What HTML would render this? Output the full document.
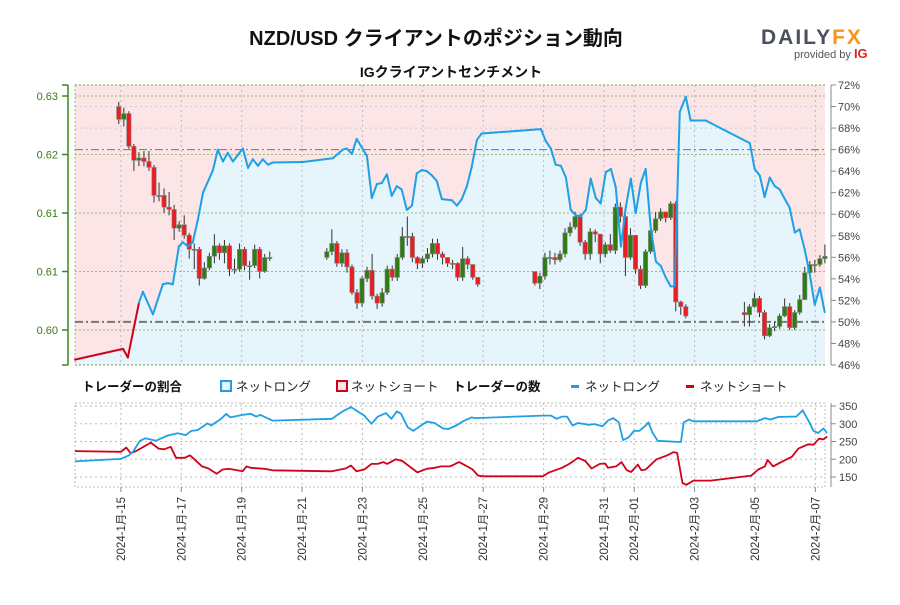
<!DOCTYPE html>
<html><head><meta charset="utf-8">
<style>
html,body{margin:0;padding:0;background:#fff;}
body{width:900px;height:600px;overflow:hidden;position:relative;font-family:"Liberation Sans","Noto Sans CJK JP",sans-serif;}
svg text{font-family:"Liberation Sans","Noto Sans CJK JP",sans-serif;}
</style></head>
<body>
<svg id="chart" width="900" height="600" viewBox="0 0 900 600" xmlns="http://www.w3.org/2000/svg">
  <text x="436" y="45" text-anchor="middle" font-size="20" font-weight="bold" fill="#111">NZD/USD クライアントのポジション動向</text>
  <text x="451" y="77" text-anchor="middle" font-size="14" font-weight="bold" fill="#111">IGクライアントセンチメント</text>
  <g>
    <text x="761" y="44" font-size="21" font-weight="bold" letter-spacing="2" fill="#4a5060">DAILY<tspan fill="#f7941d">FX</tspan></text>
    <text x="794" y="58" font-size="11" fill="#555">provided by <tspan fill="#e2231a" font-weight="bold" font-size="13">IG</tspan></text>
  </g>
  <g id="topG"></g>
  <g id="legend">
    <text x="82" y="391" font-size="12.5" font-weight="bold" fill="#111">トレーダーの割合</text>
    <rect x="221" y="381" width="10" height="10" fill="#e6f4fb" stroke="#1ea0e6" stroke-width="2"/>
    <text x="236" y="391" font-size="12.5" fill="#222">ネットロング</text>
    <rect x="337" y="381" width="10" height="10" fill="#fbe5e6" stroke="#d0021b" stroke-width="2"/>
    <text x="351" y="391" font-size="12.5" fill="#222">ネットショート</text>
    <text x="453" y="391" font-size="12.5" font-weight="bold" fill="#111">トレーダーの数</text>
    <rect x="571" y="385" width="8" height="3" fill="#1ea0e6"/>
    <text x="585" y="391" font-size="12.5" fill="#222">ネットロング</text>
    <rect x="686" y="385" width="8" height="3" fill="#d0021b"/>
    <text x="700" y="391" font-size="12.5" fill="#222">ネットショート</text>
  </g>
  <g id="bottomG"></g>
</svg>
<script>
// ---------- data ----------
const xTickDays = [15,17,19,21,23,25,27,29,31,32,34,36,38];
const xTickLabels = ["2024-1月-15","2024-1月-17","2024-1月-19","2024-1月-21","2024-1月-23","2024-1月-25","2024-1月-27","2024-1月-29","2024-1月-31","2024-2月-01","2024-2月-03","2024-2月-05","2024-2月-07"];
const priceTicks = [0.625,0.620,0.615,0.610,0.605];
const priceTickLabels = ["0.63","0.62","0.61","0.61","0.60"];
const pctTicks = [46,48,50,52,54,56,58,60,62,64,66,68,70,72];
const countTicks = [150,200,250,300,350];

const segStartDays = [14.93,21.82,28.71,35.65];
const segCounts = [31,31,31,17];
const segOpens = [0.6241,0.6112,0.6100,0.6065];
const closes = [
 0.6230,0.6235,0.6207,0.6195,0.6197,0.6194,0.6189,0.6165,0.6165,0.6155,0.6153,0.6137,0.6140,0.6131,0.6119,0.6119,0.6094,0.6103,0.6113,0.6122,0.6116,0.6122,0.6102,0.6102,0.6119,0.6105,0.6105,0.6119,0.6100,0.6112,0.6112,
 0.6117,0.6124,0.6107,0.6116,0.6104,0.6082,0.6073,0.6094,0.6101,0.6079,0.6073,0.6082,0.6102,0.6095,0.6112,0.6130,0.6130,0.6112,0.6107,0.6111,0.6115,0.6124,0.6115,0.6112,0.6107,0.6107,0.6095,0.6111,0.6106,0.6095,0.6089,
 0.6090,0.6096,0.6112,0.6112,0.6110,0.6115,0.6133,0.6138,0.6147,0.6125,0.6115,0.6134,0.6132,0.6115,0.6123,0.6118,0.6155,0.6147,0.6112,0.6131,0.6102,0.6088,0.6117,0.6135,0.6145,0.6151,0.6146,0.6158,0.6074,0.6070,0.6062,
 0.6063,0.6070,0.6077,0.6065,0.6045,0.6052,0.6053,0.6062,0.6070,0.6052,0.6065,0.6076,0.6099,0.6106,0.6106,0.6111,0.6113];
const highs = [
 0.6245,0.6240,0.6237,0.6209,0.6202,0.6203,0.6203,0.6191,0.6176,0.6171,0.6168,0.6157,0.6143,0.6148,0.6133,0.6124,0.6121,0.6108,0.6116,0.6132,0.6124,0.6127,0.6124,0.6111,0.6124,0.6121,0.6109,0.6123,0.6121,0.6115,0.6117,
 0.6120,0.6136,0.6126,0.6119,0.6119,0.6106,0.6085,0.6096,0.6104,0.6115,0.6081,0.6086,0.6105,0.6105,0.6115,0.6138,0.6147,0.6133,0.6113,0.6113,0.6120,0.6128,0.6128,0.6117,0.6111,0.6110,0.6108,0.6121,0.6113,0.6106,0.6095,
 0.6100,0.6099,0.6116,0.6118,0.6116,0.6118,0.6137,0.6142,0.6151,0.6149,0.6127,0.6137,0.6136,0.6118,0.6125,0.6132,0.6158,0.6159,0.6149,0.6137,0.6131,0.6105,0.6119,0.6137,0.6151,0.6154,0.6149,0.6160,0.6160,0.6075,0.6072,
 0.6074,0.6072,0.6082,0.6079,0.6067,0.6055,0.6057,0.6064,0.6077,0.6073,0.6067,0.6080,0.6104,0.6109,0.6110,0.6114,0.6123];
const lows = [
 0.6226,0.6224,0.6205,0.6186,0.6190,0.6190,0.6186,0.6159,0.6160,0.6150,0.6148,0.6127,0.6134,0.6128,0.6111,0.6102,0.6088,0.6093,0.6101,0.6107,0.6110,0.6107,0.6096,0.6098,0.6100,0.6101,0.6093,0.6103,0.6094,0.6099,0.6109,
 0.6110,0.6114,0.6104,0.6104,0.6099,0.6080,0.6068,0.6070,0.6091,0.6076,0.6068,0.6070,0.6080,0.6092,0.6092,0.6110,0.6122,0.6108,0.6102,0.6103,0.6108,0.6112,0.6110,0.6106,0.6104,0.6102,0.6092,0.6092,0.6102,0.6093,0.6087,
 0.6088,0.6085,0.6093,0.6106,0.6106,0.6108,0.6112,0.6130,0.6136,0.6122,0.6110,0.6110,0.6125,0.6107,0.6112,0.6116,0.6115,0.6142,0.6096,0.6110,0.6098,0.6085,0.6086,0.6115,0.6133,0.6143,0.6142,0.6144,0.6066,0.6063,0.6060,
 0.6053,0.6053,0.6069,0.6061,0.6042,0.6044,0.6049,0.6051,0.6061,0.6050,0.6050,0.6063,0.6076,0.6097,0.6099,0.6104,0.6107];

const sentDays = [13.48,15.07,15.23,15.60,15.73,16.06,16.39,16.56,16.72,16.92,17.05,17.22,17.38,17.55,17.72,18.05,18.21,18.38,18.54,18.71,19.04,19.21,19.37,19.54,19.70,19.87,20.03,21.03,22.02,22.35,22.48,22.65,22.81,22.98,23.15,23.31,23.48,23.64,23.81,23.97,24.14,24.30,24.47,24.64,24.80,24.97,25.13,25.30,25.46,25.63,25.96,26.13,26.29,26.46,26.62,26.79,26.95,27.45,28.91,29.07,29.24,29.40,29.57,29.74,29.90,30.07,30.23,30.40,30.56,30.73,30.89,31.06,31.23,31.39,31.56,31.72,31.89,32.05,32.22,32.38,32.55,32.72,32.88,33.05,33.21,33.34,33.51,33.71,33.87,34.37,35.83,35.99,36.16,36.32,36.49,36.66,36.82,36.99,37.15,37.32,37.48,37.65,37.81,37.98,38.15,38.31];
const sentLongPct = [46.5,47.5,46.7,51.8,52.8,50.7,53.5,53.6,53.5,57.0,57.4,57.0,57.4,59.5,62.0,64.1,66.0,64.9,65.7,64.9,66.1,64.3,65.1,64.5,65.1,64.6,64.8,64.85,65.2,66.0,66.1,65.6,67.0,66.2,65.4,61.5,62.8,62.9,63.7,61.7,62.6,62.3,60.4,60.8,63.8,64.1,64.0,63.6,63.1,61.4,61.3,60.8,61.4,62.6,64.4,66.9,67.5,67.6,67.9,66.8,66.1,64.6,64.5,63.4,60.4,59.9,59.8,60.4,63.3,61.5,61.0,63.9,64.2,62.5,57.0,60.6,63.3,60.1,62.9,64.2,58.7,55.6,55.2,54.1,53.3,53.3,69.5,70.9,68.7,68.7,66.6,64.2,63.6,61.6,63.4,62.6,62.3,61.4,60.6,58.3,58.6,56.7,54.5,51.6,53.2,50.9];

const longDays = [13.48,15.0,15.27,15.39,15.63,15.81,16.16,16.52,16.88,17.15,17.33,17.54,17.87,17.99,18.23,18.32,18.49,18.62,19.03,19.30,19.48,19.62,20.02,21.99,22.35,22.62,23.06,23.30,23.51,23.78,23.96,24.14,24.28,24.50,24.68,25.13,25.39,25.66,25.84,26.11,26.33,26.61,26.74,28.98,29.25,29.43,29.61,29.78,29.96,30.14,30.50,30.68,30.95,31.13,31.31,31.49,31.63,31.81,31.99,32.17,32.38,32.47,32.60,32.78,33.42,33.55,33.64,33.82,33.96,36.06,36.33,36.51,36.77,37.22,37.37,37.58,37.80,37.94,38.09,38.27,38.39];
const longCounts = [194,201,211,220,252,259,252,266,273,268,280,282,301,295,309,314,328,318,325,328,320,325,309,314,335,347,323,300,320,330,314,335,328,290,280,306,302,287,285,295,307,318,316,323,323,314,320,320,295,302,297,299,293,309,316,304,254,261,280,280,295,304,276,252,249,249,304,312,307,307,316,312,319,320,320,338,304,280,274,287,274];
const shortDays = [13.48,15.0,15.18,15.32,15.5,15.99,16.25,16.43,16.65,16.83,17.11,17.29,17.69,17.90,18.17,18.37,18.58,19.03,19.16,19.30,19.75,20.02,21.99,22.44,22.62,22.80,23.06,23.30,23.51,23.69,23.82,24.10,24.32,24.82,25.13,25.39,25.61,25.90,26.20,26.47,26.65,26.83,27.01,28.98,29.16,29.61,29.87,30.14,30.38,30.59,30.86,31.04,31.13,31.40,31.58,31.76,31.90,32.12,32.24,32.38,32.74,33.10,33.31,33.42,33.60,33.73,33.96,34.53,35.88,36.11,36.33,36.42,36.60,36.87,37.22,37.44,37.76,37.94,38.12,38.27,38.39];
const shortCounts = [223,221,233,217,223,247,230,228,235,204,204,211,180,174,159,171,173,166,180,176,173,169,166,174,182,166,171,187,187,192,187,200,195,163,173,176,180,180,192,180,171,154,152,152,162,176,188,204,195,174,187,188,176,180,192,169,164,185,169,171,200,211,220,218,133,128,140,140,154,171,180,198,180,192,207,230,242,241,258,256,264];

// ---------- layout ----------
const NS = "http://www.w3.org/2000/svg";
const PL = 75, PR = 825, TT = 85, TB = 365, BT = 403, BB = 487;
const D0 = 13.48, D1 = 38.32;
function xDay(d){ return PL + (d - D0) / (D1 - D0) * (PR - PL); }
function yPrice(p){ return 96 + (0.625 - p) * 11700; }
function yPct(v){ return TB - (v - 46) * (TB - TT) / 26; }
function yCount(v){ return 406 + (350 - v) * 0.355; }
function mk(tag, attrs, parent){
  const el = document.createElementNS(NS, tag);
  for (const k in attrs) el.setAttribute(k, attrs[k]);
  parent.appendChild(el);
  return el;
}
const topG = document.getElementById('topG');
const botG = document.getElementById('bottomG');
const clipDefs = mk('defs', {}, topG);
const cp = mk('clipPath', {id:'cpTop'}, clipDefs);
mk('rect', {x:PL, y:TT, width:PR-PL, height:TB-TT}, cp);

// background
const bg = mk('rect', {x:PL, y:TT, width:PR-PL, height:TB-TT, fill:'#fbe5e6'}, topG);


let areaD = 'M' + xDay(sentDays[0]) + ',' + TB;
sentDays.forEach((d,i)=>{ areaD += ' L' + xDay(d).toFixed(1) + ',' + yPct(sentLongPct[i]).toFixed(1); });
areaD += ' L' + xDay(sentDays[sentDays.length-1]) + ',' + TB + ' Z';
const area = mk('path', {d:areaD, fill:'#e6f4fb', 'clip-path':'url(#cpTop)'}, topG);



// grids
xTickDays.forEach((d,i)=>{
  const x = xDay(d);
  const g1 = mk('line', {x1:x, x2:x, y1:TT, y2:TB, stroke:'#bbb', 'stroke-width':1, 'stroke-dasharray':'2,3'}, topG);
  
  
  const g2 = mk('line', {x1:x, x2:x, y1:BT, y2:BB, stroke:'#bbb', 'stroke-width':1, 'stroke-dasharray':'2,3'}, botG);
  
  
});
[70,68].forEach(v=>{
  const l = mk('line', {x1:PL, x2:PR, y1:yPct(v), y2:yPct(v), stroke:'#ccc', 'stroke-dasharray':'2,3'}, topG);
  
  
});
priceTicks.forEach((p,i)=>{
  const y = yPrice(p);
  const l = mk('line', {x1:PL, x2:PR, y1:y, y2:y, stroke:'#9cba7a', 'stroke-width':1, 'stroke-dasharray':'2,2'}, topG);
  
  
});
[TT, TB].forEach(y=>{
  const l = mk('line', {x1:PL, x2:PR, y1:y, y2:y, stroke:'#9cba7a', 'stroke-width':1.5, 'stroke-dasharray':'2,2'}, topG);
  
  
});
const lm = mk('line', {x1:PL, x2:PL, y1:TT, y2:TB, stroke:'#9cba7a', 'stroke-dasharray':'2,2'}, topG);


// reference lines
const r66 = mk('line', {x1:PL, x2:PR, y1:yPct(66), y2:yPct(66), stroke:'#777', 'stroke-width':1, 'stroke-dasharray':'8,3,2,3'}, topG);


const r50 = mk('line', {x1:PL, x2:PR, y1:yPct(50), y2:yPct(50), stroke:'#777', 'stroke-width':2, 'stroke-dasharray':'8,3,2,3'}, topG);



// candles
let idx = 0;
segStartDays.forEach((sd,s)=>{
  let prev = segOpens[s];
  for (let k=0;k<segCounts[s];k++,idx++){
    const o = prev, c = closes[idx];
    const x = xDay(sd + k/6);
    const g = mk('g', {}, topG);
    
    
    mk('line', {x1:x, x2:x, y1:yPrice(highs[idx]), y2:yPrice(lows[idx]), stroke:'#333', 'stroke-width':1}, g);
    const yt = yPrice(Math.max(o,c)), yb = yPrice(Math.min(o,c));
    const up = c >= o;
    mk('rect', {x:x-2.2, y:yt, width:4.4, height:Math.max(1.2, yb-yt), fill: up ? '#2f7d12' : '#ec1c24', stroke:'#888', 'stroke-width':0.6}, g);
    prev = c;
  }
});

// sentiment line
for (let i=0;i<sentDays.length-1;i++){
  const seg = mk('line', {x1:xDay(sentDays[i]), y1:yPct(sentLongPct[i]), x2:xDay(sentDays[i+1]), y2:yPct(sentLongPct[i+1]),
    stroke: sentLongPct[i] < 50 ? '#d0021b' : '#1ea0e6', 'stroke-width':2, 'stroke-linecap':'round'}, topG);
  
  
}

// left axis
const la = mk('line', {x1:68, x2:68, y1:TT, y2:TB, stroke:'#3a8a1a', 'stroke-width':1.5}, topG);


priceTicks.forEach((p,i)=>{
  const y = yPrice(p);
  mk('line', {x1:62, x2:68, y1:y, y2:y, stroke:'#3a8a1a', 'stroke-width':1.5}, topG);
  const t = mk('text', {x:58, y:y+4, 'text-anchor':'end', 'font-size':11, fill:'#3a7a1a'}, topG);
  
  
  t.textContent = priceTickLabels[i];
});
[TT, TB].forEach(y=>{ mk('line', {x1:62, x2:68, y1:y, y2:y, stroke:'#3a8a1a', 'stroke-width':1.5}, topG); });
// right axis
const ra = mk('line', {x1:831, x2:831, y1:TT, y2:TB, stroke:'#888', 'stroke-width':1}, topG);


pctTicks.forEach(v=>{
  const y = yPct(v);
  mk('line', {x1:831, x2:836, y1:y, y2:y, stroke:'#888'}, topG);
  const t = mk('text', {x:838, y:y+4, 'font-size':11, fill:'#444'}, topG);
  
  
  t.textContent = v + '%';
});

// bottom chart
countTicks.forEach(v=>{
  const y = yCount(v);
  const l = mk('line', {x1:PL, x2:PR, y1:y, y2:y, stroke:'#bbb', 'stroke-dasharray':'2,3'}, botG);
  
  
  mk('line', {x1:831, x2:836, y1:y, y2:y, stroke:'#888'}, botG);
  const t = mk('text', {x:839, y:y+4, 'font-size':11, fill:'#444'}, botG);
  
  
  t.textContent = v;
});
const bf = mk('rect', {x:PL, y:BT, width:PR-PL, height:BB-BT, fill:'none', stroke:'#bbb', 'stroke-dasharray':'2,2'}, botG);


const ca = mk('line', {x1:831, x2:831, y1:BT, y2:BB, stroke:'#888'}, botG);



function poly(days, vals, color, name){
  const pts = days.map((d,i)=> xDay(d).toFixed(1) + ',' + yCount(vals[i]).toFixed(1)).join(' ');
  const p = mk('polyline', {points:pts, fill:'none', stroke:color, 'stroke-width':1.8, 'stroke-linejoin':'round'}, botG);
  
  
}
poly(shortDays, shortCounts, '#d0021b', 'short-count-line');
poly(longDays, longCounts, '#1ea0e6', 'long-count-line');

// x axis labels
xTickDays.forEach((d,i)=>{
  const x = xDay(d);
  mk('line', {x1:x, x2:x, y1:BB, y2:BB+5, stroke:'#888'}, botG);
  const t = mk('text', {x:0, y:0, 'text-anchor':'end', 'font-size':11.5, fill:'#333', transform:'translate(' + (x+4) + ',497) rotate(-90)'}, botG);
  
  
  t.textContent = xTickLabels[i];
});
</script>
</body></html>
